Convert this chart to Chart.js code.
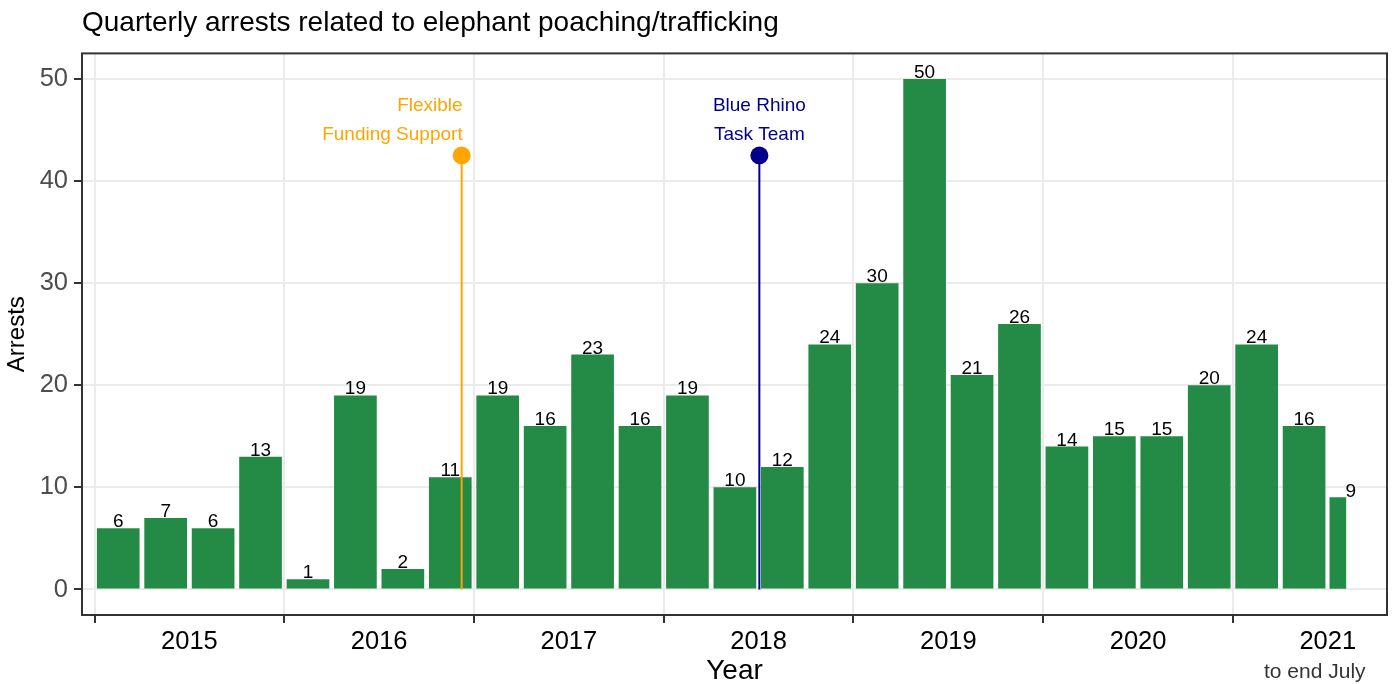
<!DOCTYPE html>
<html>
<head>
<meta charset="utf-8">
<title>Quarterly arrests related to elephant poaching/trafficking</title>
<script src="https://cdn.jsdelivr.net/npm/chart.js@4/dist/chart.umd.min.js"></script>
<style>
  html, body { margin: 0; padding: 0; background: #fff; }
  #wrap { width: 1396px; height: 684px; position: relative; }
</style>
</head>
<body>
<div id="wrap"><canvas id="chart"></canvas></div>
<script>
// data
const years = [2015, 2016, 2017, 2018, 2019, 2020, 2021];
const quarterArrests = [
  6, 7, 6, 13,     // 2015
  1, 19, 2, 11,    // 2016
  19, 16, 23, 16,  // 2017
  19, 10, 12, 24,  // 2018
  30, 50, 21, 26,  // 2019
  14, 15, 15, 20,  // 2020
  24, 16           // 2021 Q1-Q2
];
// 2021 Q3 only covers July
const julyArrests = [9];
const julyAt = [2021.553];

const eventNames = [["Flexible", "Funding Support"], ["Blue Rhino", "Task Team"]];
const eventDates = [2016.935, 2018.504];
const eventMarkerHeights = [42.5, 42.5];

const yTicks = [0, 10, 20, 30, 40, 50];

// styles
const FONT = "'Liberation Sans', Arial, sans-serif";
const barGreen = "#238B45";
const eventColors = ["#FFA500", "#00008B"];
const eventAlign = ["right", "center"];
const xMin = 2014.934;
const xMax = 2021.812;

const quarterPoints = quarterArrests.map((v, i) => ({
  x: years[Math.floor(i / 4)] + ((i % 4) + 0.5) / 4,
  y: v
}));
const julyPoints = julyArrests.map((v, i) => ({ x: julyAt[i], y: v }));

const eventDatasets = eventDates.map((d, i) => ({
  type: "line",
  data: [{ x: d, y: 0 }, { x: d, y: eventMarkerHeights[i] }],
  xAxisID: "x",
  borderColor: eventColors[i],
  borderWidth: 2,
  pointRadius: [0, 9],
  pointBackgroundColor: eventColors[i],
  pointBorderWidth: 0,
  order: 1
}));

const isYear = (v) => Math.abs(v - Math.round(v)) < 1e-6;

const annotate = {
  id: "annotate",
  afterDatasetsDraw(chart) {
    const ctx = chart.ctx;
    const area = chart.chartArea;
    ctx.save();

    // value labels above bars
    ctx.font = "19px " + FONT;
    ctx.fillStyle = "#000";
    ctx.textAlign = "center";
    ctx.textBaseline = "alphabetic";
    [0, 1].forEach((di) => {
      const meta = chart.getDatasetMeta(di);
      const nudge = di === 1 ? 13 : 0;
      meta.data.forEach((bar, j) => {
        const v = chart.data.datasets[di].data[j].y;
        ctx.fillText(String(v), bar.x + nudge, bar.y - 1);
      });
    });

    // event labels
    ctx.font = "19px " + FONT;
    eventNames.forEach((lines, i) => {
      const pt = chart.getDatasetMeta(2 + i).data[1];
      ctx.fillStyle = eventColors[i];
      ctx.textAlign = eventAlign[i];
      const x = eventAlign[i] === "right" ? pt.x + 1 : pt.x;
      ctx.fillText(lines[0], x, pt.y - 45);
      ctx.fillText(lines[1], x, pt.y - 16);
    });

    // panel border
    ctx.strokeStyle = "#333333";
    ctx.lineWidth = 2;
    ctx.strokeRect(area.left, area.top, area.right - area.left, area.bottom - area.top);
    ctx.restore();
  },
  afterDraw(chart) {
    const ctx = chart.ctx;
    const xs = chart.scales.x;
    ctx.save();
    ctx.font = "21px " + FONT;
    ctx.fillStyle = "#333333";
    ctx.textAlign = "center";
    ctx.textBaseline = "middle";
    ctx.fillText("to end July", xs.getPixelForValue(2021.5) - 13, xs.bottom - 12);
    ctx.restore();
  }
};

new Chart(document.getElementById("chart"), {
  data: {
    datasets: [
      {
        type: "bar",
        data: quarterPoints,
        xAxisID: "x",
        backgroundColor: barGreen,
        barPercentage: 0.9,
        categoryPercentage: 1,
        grouped: false,
        order: 3
      },
      {
        type: "bar",
        data: julyPoints,
        xAxisID: "x2",
        backgroundColor: barGreen,
        barThickness: 16,
        grouped: false,
        order: 3
      },
      ...eventDatasets
    ]
  },
  options: {
    responsive: true,
    maintainAspectRatio: false,
    animation: false,
    layout: { padding: { left: 0, right: 5, top: 0, bottom: 0 } },
    plugins: {
      legend: { display: false },
      tooltip: { enabled: false },
      title: {
        display: true,
        text: "Quarterly arrests related to elephant poaching/trafficking",
        align: "start",
        fullSize: false,
        color: "#000",
        font: { family: FONT, size: 28, weight: "normal" },
        padding: { top: 6, bottom: 13.8 }
      }
    },
    scales: {
      x: {
        type: "linear",
        position: "bottom",
        offset: false,
        min: xMin,
        max: xMax,
        afterBuildTicks: (scale) => {
          scale.ticks = years.flatMap((y) => [{ value: y }, { value: y + 0.5 }]);
        },
        afterFit: (scale) => {
          scale.height = 69;
          scale.paddingLeft = 0;
          scale.paddingRight = 0;
        },
        ticks: {
          autoSkip: false,
          maxRotation: 0,
          padding: 4,
          color: "#000",
          font: { family: FONT, size: 25.5 },
          callback: (v) => (isYear(v) ? "" : String(Math.floor(v)))
        },
        grid: {
          offset: false,
          color: (c) => (c.tick && isYear(c.tick.value) ? "#EBEBEB" : "rgba(0,0,0,0)"),
          tickColor: (c) => (c.tick && isYear(c.tick.value) ? "#333333" : "rgba(0,0,0,0)"),
          lineWidth: 2,
          tickLength: 8,
          tickWidth: 2
        },
        border: { display: false },
        title: {
          display: true,
          text: "Year",
          color: "#000",
          font: { family: FONT, size: 28, lineHeight: 0.9 },
          padding: 0
        }
      },
      x2: {
        type: "linear",
        display: false,
        offset: false,
        min: xMin,
        max: xMax
      },
      y: {
        type: "linear",
        min: -2.5,
        max: 52.5,
        afterBuildTicks: (scale) => {
          scale.ticks = yTicks.map((v) => ({ value: v }));
        },
        afterFit: (scale) => { scale.width = 82; },
        ticks: {
          padding: 6,
          color: "#4D4D4D",
          font: { family: FONT, size: 25.5 }
        },
        grid: {
          color: "#EBEBEB",
          lineWidth: 2,
          tickColor: "#333333",
          tickLength: 8,
          tickWidth: 2
        },
        border: { display: false },
        title: {
          display: true,
          text: "Arrests",
          color: "#000",
          font: { family: FONT, size: 24 },
          padding: { top: 3, bottom: 0 }
        }
      }
    }
  },
  plugins: [annotate]
});
</script>
</body>
</html>
